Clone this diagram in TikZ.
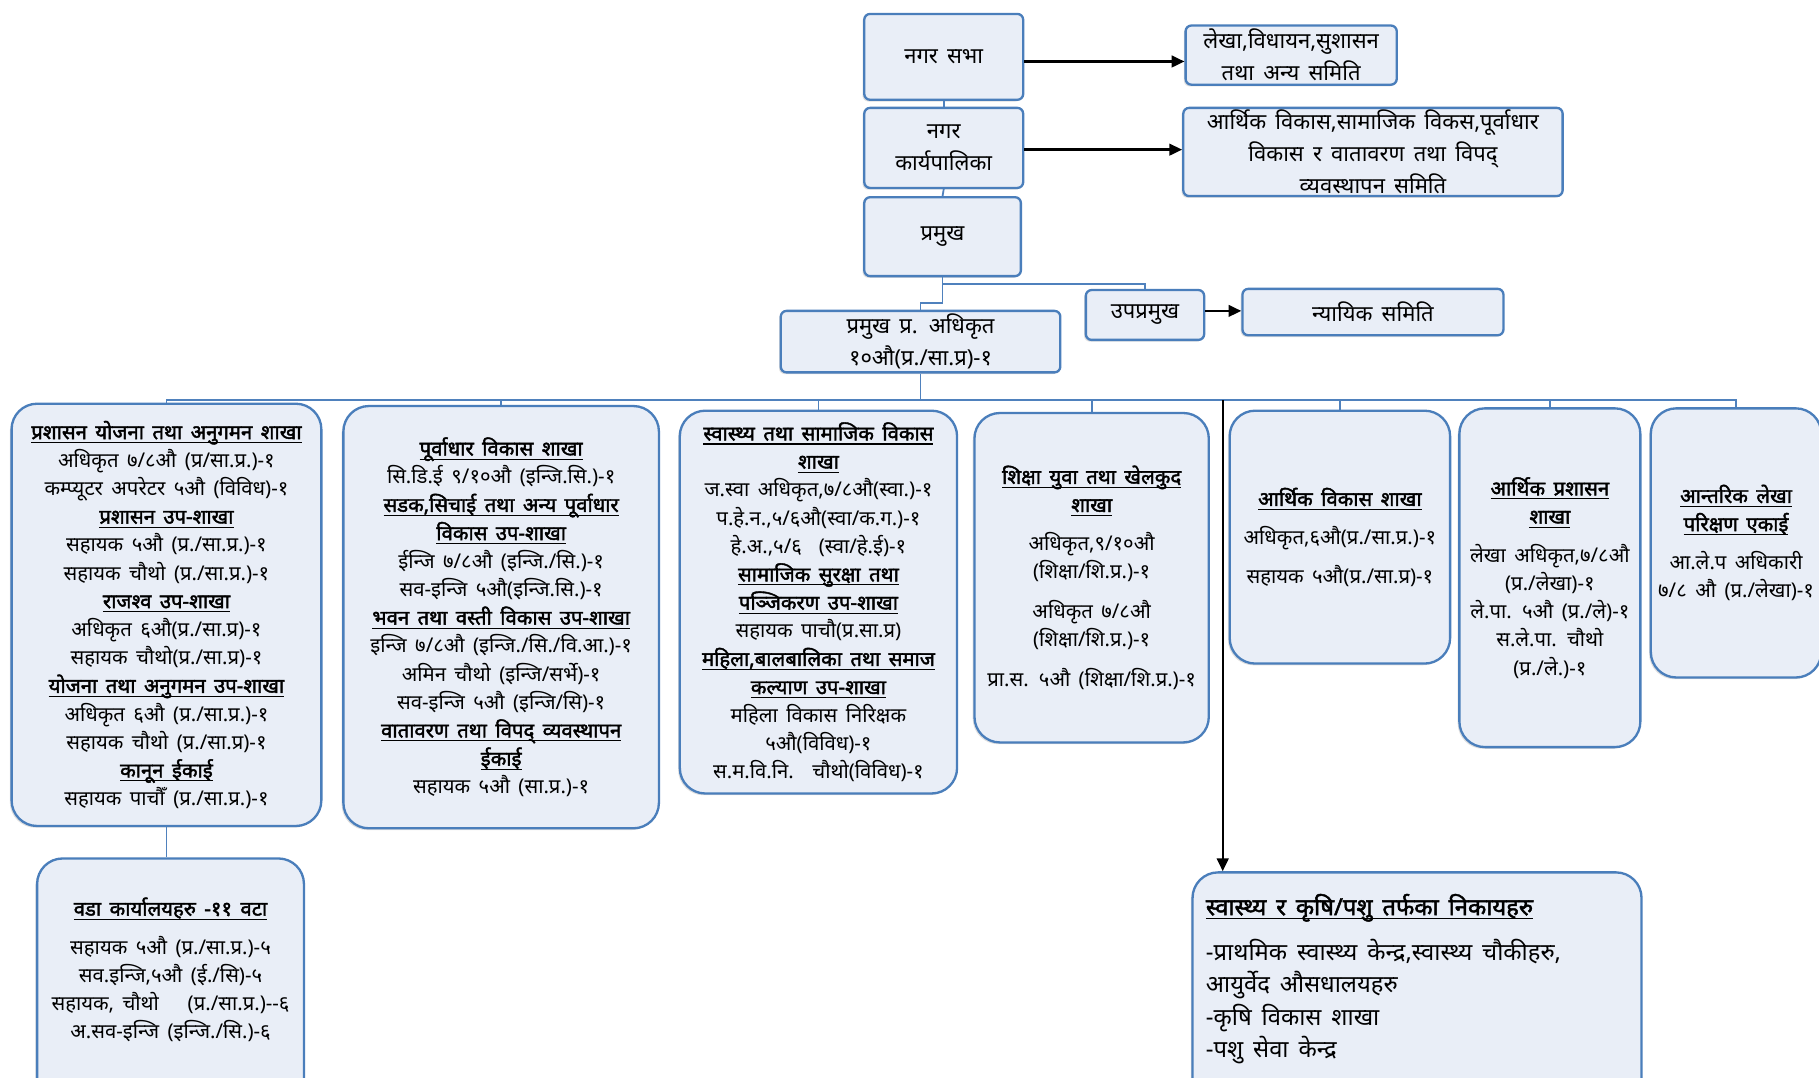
\documentclass[tikz,border=0pt]{standalone}
\usepackage{fontspec}
\newfontfamily\deva[Script=Devanagari, AutoFakeBold=2, WordSpace=1.6]{Noto Sans}
\usetikzlibrary{arrows.meta,shadows}
\definecolor{boxfill}{HTML}{E9EEF7}
\definecolor{boxline}{HTML}{4A7EBB}
\definecolor{linkblue}{HTML}{4F81BD}
\newcommand{\hd}[1]{\setbox0\hbox{\bfseries #1}\rlap{\rule[-3.5pt]{\wd0}{0.9pt}}\box0}
\tikzset{
  topbox/.style={rectangle, rounded corners=5pt, draw=boxline, line width=2pt, fill=boxfill,
    drop shadow={shadow xshift=-1.5pt, shadow yshift=-1.5pt, opacity=.25},
    align=center, inner sep=0pt, font=\deva\fontsize{19}{27.5}\selectfont},
  branch/.style={rectangle, rounded corners=22pt, draw=boxline, line width=2pt, fill=boxfill,
    drop shadow={shadow xshift=-1.5pt, shadow yshift=-1.5pt, opacity=.25},
    align=center, inner sep=0pt, font=\deva\fontsize{17.5}{24.3}\selectfont},
  link/.style={draw=linkblue, line width=1.5pt},
  arr/.style={-{Triangle[length=11pt,width=10pt]}, line width=2pt}
}
\begin{document}
\begin{tikzpicture}[x=1pt,y=-1pt]
\useasboundingbox (0,0) rectangle (1568,929);
\fill[white] (0,0) rectangle (1568,929);
\clip (0,0) rectangle (1568,929);

\node[topbox] at (813.5,49) [minimum width=137pt,minimum height=74pt] (sabha) {नगर सभा};
\node[topbox] at (1113,47.5) [minimum width=182pt,minimum height=51pt] (lekha) {लेखा,विधायन,सुशासन\\तथा अन्य समिति};
\node[topbox] at (813.5,127.5) [minimum width=137pt,minimum height=69pt] (karya) {नगर\\कार्यपालिका};
\node[topbox] at (1183.5,131) [minimum width=327pt,minimum height=76pt] (arthik) {आर्थिक विकास,सामाजिक विकस,पूर्वाधार\\विकास र वातावरण तथा विपद्\\व्यवस्थापन समिति};
\node[topbox] at (812.5,204) [minimum width=135pt,minimum height=68pt] (pramukh) {प्रमुख};
\node[topbox] at (987,271.5) [minimum width=102pt,minimum height=43pt] (upa) {उपप्रमुख};
\node[topbox] at (1183.5,269) [minimum width=225pt,minimum height=40pt] (nyayik) {न्यायिक समिति};
\node[topbox] at (793.5,294.5) [minimum width=241pt,minimum height=53pt] (cao) {प्रमुख प्र. अधिकृत\\१०औ(प्र./सा.प्र)-१};

\node[branch] at (143.5,530) [minimum width=267pt,minimum height=364pt] (b1) {%
\hd{प्रशासन योजना तथा अनुगमन शाखा}\\
अधिकृत ७/८औ (प्र/सा.प्र.)-१\\
कम्प्यूटर अपरेटर ५औ (विविध)-१\\
\hd{प्रशासन उप-शाखा}\\
सहायक ५औ (प्र./सा.प्र.)-१\\
सहायक चौथो (प्र./सा.प्र.)-१\\
\hd{राजश्व उप-शाखा}\\
अधिकृत ६औ(प्र./सा.प्र)-१\\
सहायक चौथो(प्र./सा.प्र)-१\\
\hd{योजना तथा अनुगमन उप-शाखा}\\
अधिकृत ६औ (प्र./सा.प्र.)-१\\
सहायक चौथो (प्र./सा.प्र)-१\\
\hd{कानून ईकाई}\\
सहायक पाचौँ (प्र./सा.प्र.)-१};
\node[branch] at (432,532) [minimum width=272pt,minimum height=364pt] (b2) {%
\hd{पूर्वाधार विकास शाखा}\\
सि.डि.ई ९/१०औ (इन्जि.सि.)-१\\
\hd{सडक,सिचाई तथा अन्य पूर्वाधार}\\
\hd{विकास उप-शाखा}\\
ईन्जि ७/८औ (इन्जि./सि.)-१\\
सव-इन्जि ५औ(इन्जि.सि.)-१\\
\hd{भवन तथा वस्ती विकास उप-शाखा}\\
इन्जि ७/८औ (इन्जि./सि./वि.आ.)-१\\
अमिन चौथो (इन्जि/सर्भे)-१\\
सव-इन्जि ५औ (इन्जि/सि)-१\\
\hd{वातावरण तथा विपद् व्यवस्थापन}\\
\hd{ईकाई}\\
सहायक ५औ (सा.प्र.)-१};
\node[branch] at (705.5,519) [minimum width=239pt,minimum height=330pt] (b3) {%
\hd{स्वास्थ्य तथा सामाजिक विकास}\\
\hd{शाखा}\\
ज.स्वा अधिकृत,७/८औ(स्वा.)-१\\
प.हे.न.,५/६औ(स्वा/क.ग.)-१\\
हे.अ.,५/६ \ (स्वा/हे.ई)-१\\
\hd{सामाजिक सुरक्षा तथा}\\
\hd{पञ्जिकरण उप-शाखा}\\
सहायक पाचौ(प्र.सा.प्र)\\
\hd{महिला,बालबालिका तथा समाज}\\
\hd{कल्याण उप-शाखा}\\
महिला विकास निरिक्षक\\
५औ(विविध)-१\\
स.म.वि.नि. \ चौथो(विविध)-१};
\node[branch] at (941,498) [minimum width=202pt,minimum height=284pt] (b4) {%
\hd{शिक्षा युवा तथा खेलकुद}\\
\hd{शाखा}\\[9pt]
अधिकृत,९/१०औ\\
(शिक्षा/शि.प्र.)-१\\[10pt]
अधिकृत ७/८औ\\
(शिक्षा/शि.प्र.)-१\\[10pt]
प्रा.स. ५औ (शिक्षा/शि.प्र.)-१};
\node[branch] at (1155,463) [minimum width=190pt,minimum height=218pt] (b5) {%
\hd{आर्थिक विकास शाखा}\\[9pt]
अधिकृत,६औ(प्र./सा.प्र.)-१\\[9pt]
सहायक ५औ(प्र./सा.प्र)-१};
\node[branch] at (1336,498) [minimum width=156pt,minimum height=292pt] (b6) {%
\hd{आर्थिक प्रशासन}\\
\hd{शाखा}\\[9pt]
लेखा अधिकृत,७/८औ\\
(प्र./लेखा)-१\\
ले.पा. ५औ (प्र./ले)-१\\
स.ले.पा. चौथो\\
(प्र./ले.)-१};
\node[branch] at (1496.5,468) [minimum width=147pt,minimum height=232pt] (b7) {%
\hd{आन्तरिक लेखा}\\
\hd{परिक्षण एकाई}\\[9pt]
आ.ले.प अधिकारी\\
७/८ औ (प्र./लेखा)-१};

\node[branch] at (147,850) [minimum width=230pt,minimum height=220pt] (b8) {};
\node[align=center, font=\deva\fontsize{17.5}{24.3}\selectfont] at (147,836) (b8t) {%
\hd{वडा कार्यालयहरु -११ वटा}\\[9pt]
सहायक ५औ (प्र./सा.प्र.)-५\\
सव.इन्जि,५औ (ई./सि)-५\\
सहायक, चौथो \quad(प्र./सा.प्र.)-{}-६\\
अ.सव-इन्जि (इन्जि./सि.)-६};
\node[branch] at (1221.5,856) [minimum width=387pt,minimum height=208pt] (b9) {};
\node[align=left, anchor=west, font=\deva\fontsize{20.5}{28}\selectfont] at (1036,844) (b9t) {%
\hd{स्वास्थ्य र कृषि/पशु तर्फका निकायहरु}\\[11pt]
-प्राथमिक स्वास्थ्य केन्द्र,स्वास्थ्य चौकीहरु,\\
आयुर्वेद औसधालयहरु\\
-कृषि विकास शाखा\\
-पशु सेवा केन्द्र};

\draw[link] (sabha.south) -- (karya.north);
\draw[link] (karya.south) -- (pramukh.north);
\draw[link] (pramukh.south) -- ([yshift=-6pt]pramukh.south) -| (upa.north);
\draw[link] (pramukh.south) |- ([yshift=6pt]cao.north) -- (cao.north);
\coordinate (hub) at (793.5,345);
\draw[link] (cao.south) -- (hub);
\foreach \b in {b1,b2,b3,b4,b5,b6,b7}
  \draw[link] (hub) -| (\b.north);
\draw[link] (b1.south) -- (b1.south |- b8.north);
\coordinate (tap) at (1054,345);
\draw[arr] (tap) -- (tap |- b9.north);
\draw[arr] (sabha.east) ++(0,4) -- (lekha.west |- 0,53);
\draw[arr] (karya.east) ++(0,1.5) -- (arthik.west |- 0,129);
\draw[arr] (upa.east) ++(0,-3.5) -- (nyayik.west |- 0,268);
\end{tikzpicture}
\end{document}
